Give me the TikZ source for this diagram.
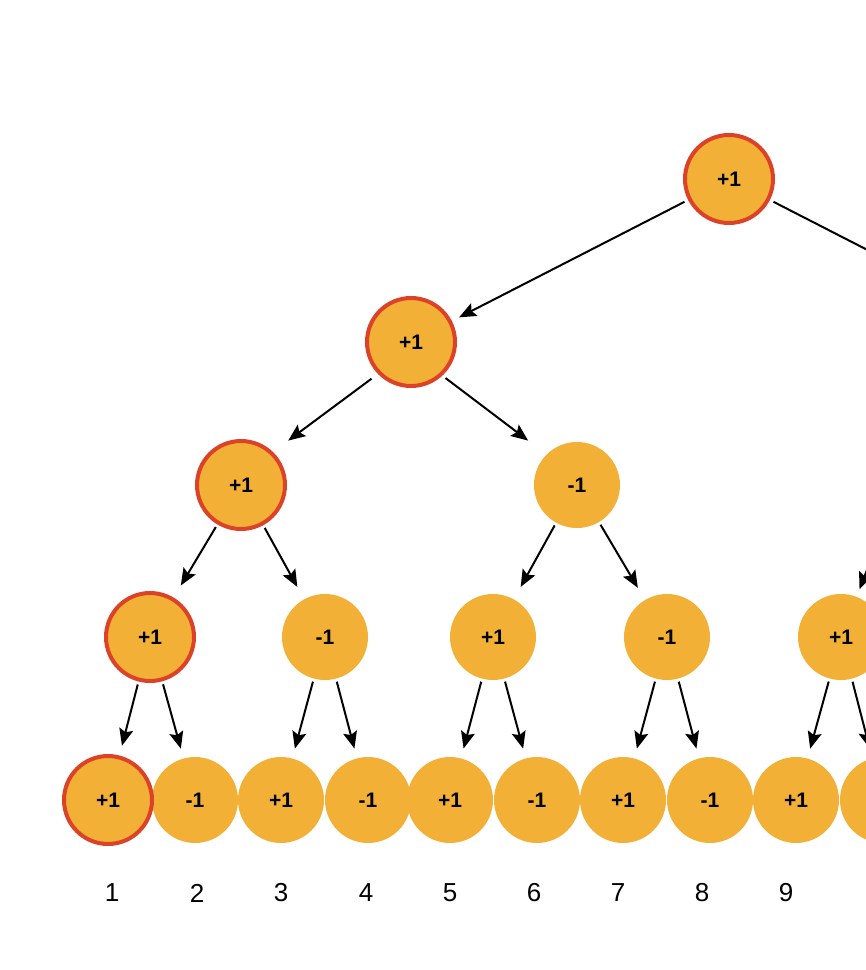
\documentclass[tikz,border=0pt]{standalone}
\usepackage{fontspec}
\setmainfont{Liberation Sans}
\usetikzlibrary{arrows.meta}
\definecolor{nodefill}{HTML}{F2B136}
\definecolor{nodered}{HTML}{DC4228}
\tikzset{
  val/.style={circle, fill=nodefill, minimum size=86pt, inner sep=0pt,
    font=\fontsize{21pt}{21pt}\selectfont\bfseries},
  hl/.style={val, draw=nodered, line width=4pt, minimum size=88pt},
  idx/.style={font=\fontsize{26pt}{26pt}\selectfont, inner sep=0pt},
  arr/.style={line width=2pt, -{Stealth[length=17pt,width=14pt,inset=3pt]}},
  ln/.style={line width=2pt}
}
\begin{document}
\begin{tikzpicture}[x=1pt,y=-1pt]
\useasboundingbox (0,0) rectangle (866,970);
\clip (0,0) rectangle (866,970);
% level 0
\node[hl] (n0) at (729,179) {+1};
% level 1
\node[hl] (n1) at (411,342) {+1};
\coordinate (n1r) at (1047,342);
% level 2
\node[hl] (n2a) at (241,485) {+1};
\node[val] (n2b) at (577,485) {-1};
\coordinate (n2c) at (900,485);
% level 3
\node[hl] (n3a) at (150,637) {+1};
\node[val] (n3b) at (325,637) {-1};
\node[val] (n3c) at (493,637) {+1};
\node[val] (n3d) at (667,637) {-1};
\node[val] (n3e) at (841,637) {+1};
% leaves
\node[val] (l2) at (195,800) {-1};
\node[val] (l3) at (281,800) {+1};
\node[val] (l4) at (368,800) {-1};
\node[val] (l5) at (450,800) {+1};
\node[val] (l6) at (537,800) {-1};
\node[val] (l7) at (623,800) {+1};
\node[val] (l8) at (710,800) {-1};
\node[val] (l9) at (796,800) {+1};
\node[val] (l10) at (883,800) {};
\node[hl] (l1) at (108,800) {+1};
% indices
\node[idx] (i1) at (112,893) {1};
\node[idx] (i2) at (197,893) {2};
\node[idx] (i3) at (281,893) {3};
\node[idx] (i4) at (366,893) {4};
\node[idx] (i5) at (450,893) {5};
\node[idx] (i6) at (534,893) {6};
\node[idx] (i7) at (618,893) {7};
\node[idx] (i8) at (702,893) {8};
\node[idx] (i9) at (786,893) {9};
% connectors
\draw[arr, shorten <=4pt, shorten >=8pt] (n0) -- (n1);
\draw[ln, shorten <=4pt] (n0) -- (n1r);
\draw[arr, shorten <=8pt, shorten >=19pt] (n1.224) -- (n2a.46);
\draw[arr, shorten <=4pt, shorten >=23pt] (n1.313) -- (n2b.135);
\draw[arr, shorten <=3pt, shorten >=14pt] (n2a) -- (n3a);
\draw[arr, shorten <=3pt, shorten >=14pt] (n2a) -- (n3b);
\draw[arr, shorten <=3pt, shorten >=14pt] (n2b) -- (n3c);
\draw[arr, shorten <=3pt, shorten >=14pt] (n2b) -- (n3d);
\draw[arr, shorten <=0pt, shorten >=8pt] (n2c) -- (n3e);
\draw[arr, shorten <=3pt, shorten >=10pt] (n3a) -- (l1);
\draw[arr, shorten <=3pt, shorten >=10pt] (n3a) -- (l2);
\draw[arr, shorten <=3pt, shorten >=10pt] (n3b) -- (l3);
\draw[arr, shorten <=3pt, shorten >=10pt] (n3b) -- (l4);
\draw[arr, shorten <=3pt, shorten >=10pt] (n3c) -- (l5);
\draw[arr, shorten <=3pt, shorten >=10pt] (n3c) -- (l6);
\draw[arr, shorten <=3pt, shorten >=10pt] (n3d) -- (l7);
\draw[arr, shorten <=3pt, shorten >=10pt] (n3d) -- (l8);
\draw[arr, shorten <=3pt, shorten >=10pt] (n3e) -- (l9);
\draw[arr, shorten <=3pt, shorten >=10pt] (n3e) -- (l10);
\end{tikzpicture}
\end{document}
